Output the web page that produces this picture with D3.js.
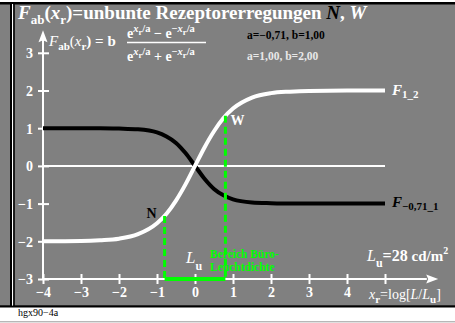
<!DOCTYPE html>
<html><head><meta charset="utf-8">
<script src="https://cdn.jsdelivr.net/npm/d3@7"></script>
<style>html,body{margin:0;padding:0;background:#fff;}svg{display:block;}</style>
</head><body>
<svg id="c" width="455" height="323"></svg>
<script>
// ---- data ----
const xTicks = [-4,-3,-2,-1,0,1,2,3,4,5];
const xTickLabels = ["−4","−3","−2","−1","0","1","2","3","4",""];
const yTicks = [-3,-2,-1,0,1,2,3];
const yTickLabels = ["−3","−2","−1","0","1","2","3"];
const curveX = [-4,-3,-2.5,-2,-1.5,-1,-0.75,-0.5,-0.25,0,0.25,0.5,0.75,1,1.5,2,2.5,3,4,5];
const whiteY = [-2.00,-1.99,-1.97,-1.93,-1.81,-1.52,-1.27,-0.92,-0.49,0,0.49,0.92,1.27,1.52,1.81,1.93,1.97,1.99,2.00,2.00];
const blackY = [1.00,1.00,1.00,0.99,0.97,0.89,0.78,0.61,0.34,0,-0.34,-0.61,-0.78,-0.89,-0.97,-0.99,-1.00,-1.00,-1.00,-1.00];
const markN = {x:-0.8, y:-1.33};
const markW = {x:0.8, y:1.33};

const svg = d3.select("#c");
const GRAY = "#808080", GREEN = "#00ff00";
const serif = "'Liberation Serif','Times New Roman',serif";

// frame
svg.append("rect").attr("x",0).attr("y",0).attr("width",455).attr("height",323).attr("fill","#fff");
svg.append("rect").attr("x",0).attr("y",3).attr("width",455).attr("height",303).attr("fill",GRAY);
svg.append("rect").attr("x",0).attr("y",2).attr("width",455).attr("height",2.5).attr("fill","#000");
svg.append("rect").attr("x",0).attr("y",305.3).attr("width",455).attr("height",2.2).attr("fill","#000");
svg.append("rect").attr("x",10).attr("y",3).attr("width",2).attr("height",303).attr("fill","#000");
svg.append("rect").attr("x",12).attr("y",4).attr("width",1.2).attr("height",301.5).attr("fill","#fff");
svg.append("rect").attr("x",13.2).attr("y",3).attr("width",1.6).attr("height",303).attr("fill","#000");
svg.append("rect").attr("x",0).attr("y",321.3).attr("width",455).attr("height",1).attr("fill","#999");

const x = d3.scaleLinear().domain([-4,4]).range([43,347]);
const y = d3.scaleLinear().domain([-3,3]).range([279,52.8]);

// rich text helper
function rich(g, x0, y0, parts, opts) {
  const t = g.append("text").attr("x",x0).attr("y",y0)
    .attr("font-family",serif).attr("font-weight",opts.bold===false?"normal":"bold")
    .attr("font-size",opts.size).attr("fill",opts.fill||"#fff");
  if (opts.anchor) t.attr("text-anchor",opts.anchor);
  let cur = 0;
  parts.forEach(p => {
    const off = p.off||0;
    const s = t.append("tspan").text(p.t).attr("dy", off-cur);
    cur = off;
    if (p.size) s.attr("font-size",p.size);
    if (p.i) s.attr("font-style","italic");
    if (p.fill) s.attr("fill",p.fill);
    if (p.w) s.attr("font-weight",p.w);
  });
  return t;
}

// zero line
svg.append("line").attr("x1",x(-4)).attr("x2",x(5)).attr("y1",y(0)).attr("y2",y(0))
  .attr("stroke","#fff").attr("stroke-width",2);

// axes lines with arrows
svg.append("line").attr("x1",x(-4)).attr("x2",x(6.1)).attr("y1",y(-3)).attr("y2",y(-3))
  .attr("stroke","#fff").attr("stroke-width",2);
svg.append("path").attr("d",`M${x(6.4)},${y(-3)} l-12,-4.5 l2,4.5 l-2,4.5 z`).attr("fill","#fff");
svg.append("line").attr("x1",x(-4)).attr("x2",x(-4)).attr("y1",y(-3)).attr("y2",y(3.45))
  .attr("stroke","#fff").attr("stroke-width",2);
svg.append("path").attr("d",`M${x(-4)},${y(3.6)} l-4.5,12 l4.5,-2 l4.5,2 z`).attr("fill","#fff");

// x axis ticks + labels via d3 axis
const xAxis = d3.axisBottom(x).tickValues(xTicks).tickSize(0).tickPadding(0)
  .tickFormat((d,i)=>xTickLabels[i]);
const gx = svg.append("g").attr("transform",`translate(0,${y(-3)})`).call(xAxis);
gx.select(".domain").remove();
gx.selectAll(".tick line").remove();
gx.selectAll("text").attr("font-family",serif).attr("font-weight","bold").attr("font-size",14)
  .attr("fill","#fff").attr("dy",0).attr("y",18);
gx.selectAll(".tick").append("line").attr("y1",-5).attr("y2",5).attr("stroke","#fff").attr("stroke-width",2);

const yAxis = d3.axisLeft(y).tickValues(yTicks).tickSize(0).tickPadding(0)
  .tickFormat((d,i)=>yTickLabels[i]);
const gy = svg.append("g").attr("transform",`translate(${x(-4)},0)`).call(yAxis);
gy.select(".domain").remove();
gy.selectAll(".tick line").remove();
gy.selectAll("text").attr("font-family",serif).attr("font-weight","bold").attr("font-size",14)
  .attr("fill","#fff").attr("dy","0.35em").attr("x",-10);
gy.selectAll(".tick").append("line").attr("x1",-5).attr("x2",6).attr("stroke","#fff").attr("stroke-width",2);

// curves
const line = d3.line().x(d=>x(d[0])).y(d=>y(d[1])).curve(d3.curveMonotoneX);
svg.append("path").datum(curveX.map((v,i)=>[v,blackY[i]])).attr("d",line)
  .attr("fill","none").attr("stroke","#000").attr("stroke-width",4);
svg.append("path").datum(curveX.map((v,i)=>[v,whiteY[i]])).attr("d",line)
  .attr("fill","none").attr("stroke","#fff").attr("stroke-width",4);

// green markers
[markN, markW].forEach(m => {
  svg.append("line").attr("x1",x(m.x)).attr("x2",x(m.x)).attr("y1",y(m.y)).attr("y2",y(-3))
    .attr("stroke",GREEN).attr("stroke-width",3).attr("stroke-dasharray","7,4");
});
svg.append("line").attr("x1",x(markN.x)).attr("x2",x(markW.x)).attr("y1",y(-3)).attr("y2",y(-3))
  .attr("stroke",GREEN).attr("stroke-width",4);

// labels N, W
svg.append("text").attr("x",x(markN.x)-18).attr("y",y(markN.y)+2).text("N")
  .attr("font-family",serif).attr("font-weight","bold").attr("font-size",14).attr("fill","#000");
svg.append("text").attr("x",x(markW.x)+5).attr("y",y(markW.y)+9).text("W")
  .attr("font-family",serif).attr("font-weight","bold").attr("font-size",14).attr("fill","#fff");

// title
rich(svg, 18, 19, [
  {t:"F", i:true},{t:"ab", off:5, size:13},{t:"(", off:0},{t:"x", i:true},{t:"r", off:5, size:13},
  {t:")=unbunte Rezeptorerregungen ", off:0},{t:"N", i:true, fill:"#000"},{t:", "},{t:"W", i:true}
], {size:19});

// formula
rich(svg, 49, 46, [
  {t:"F", i:true, w:"normal"},{t:"ab", off:4, size:11},{t:"(", off:0, w:"normal"},{t:"x", i:true, w:"normal"},
  {t:"r", off:4, size:11},{t:") = b", off:0}
], {size:15});
const supN = [
  {t:"e"},{t:"x", i:true, off:-6, size:10.5},{t:"r", off:-3, size:8.5},{t:"/a", off:-6, size:10.5},
  {t:" − e", off:0},{t:"−", off:-6, size:10.5},{t:"x", i:true, off:-6, size:10.5},{t:"r", off:-3, size:8.5},{t:"/a", off:-6, size:10.5}
];
rich(svg, 127, 38, supN, {size:14});
const supD = supN.map(p => p.t===" − e" ? Object.assign({}, p, {t:" + e"}) : p);
rich(svg, 127, 61, supD, {size:14});
svg.append("line").attr("x1",127).attr("x2",206).attr("y1",42.5).attr("y2",42.5)
  .attr("stroke","#fff").attr("stroke-width",1.5);

// parameter texts
svg.append("text").attr("x",247).attr("y",39).text("a=−0,71, b=1,00")
  .attr("font-family",serif).attr("font-weight","bold").attr("font-size",11.5).attr("fill","#000");
svg.append("text").attr("x",247).attr("y",60).text("a=1,00, b=2,00")
  .attr("font-family",serif).attr("font-weight","bold").attr("font-size",11.5).attr("fill","#e8e8e8");

// curve labels
rich(svg, 392, 95, [{t:"F", i:true},{t:"1_2", off:3, size:11}], {size:15});
rich(svg, 392, 207, [{t:"F", i:true, fill:"#000"},{t:"−0,71_1", off:3, size:11, fill:"#000"}], {size:15, fill:"#000"});

// L_u and Bereich
rich(svg, 186, 263, [{t:"L", i:true, w:"normal"},{t:"u", off:7, size:12}], {size:17});
svg.append("text").attr("x",210).attr("y",258).text("Bereich Büro-")
  .attr("font-family",serif).attr("font-weight","bold").attr("font-size",11.5).attr("fill",GREEN);
svg.append("text").attr("x",210).attr("y",271).text("Leuchtdichte")
  .attr("font-family",serif).attr("font-weight","bold").attr("font-size",11.5).attr("fill",GREEN);

rich(svg, 367, 261, [{t:"L", i:true, w:"normal"},{t:"u", off:6, size:12},{t:"=28", off:0},{t:" cd/m", size:15},{t:"2", off:-7, size:10}], {size:16});
rich(svg, 369, 299, [{t:"x", i:true, w:"normal"},{t:"r", off:4, size:11},{t:"=log[", off:0, w:"normal"},
  {t:"L", i:true, w:"normal"},{t:"/", w:"normal"},{t:"L", i:true, w:"normal"},{t:"u", off:4, size:11},{t:"]", off:0, w:"normal"}], {size:14});

// footer
svg.append("text").attr("x",18).attr("y",316).text("hgx90−4a")
  .attr("font-family",serif).attr("font-size",10).attr("fill","#000");
</script>
</body></html>
